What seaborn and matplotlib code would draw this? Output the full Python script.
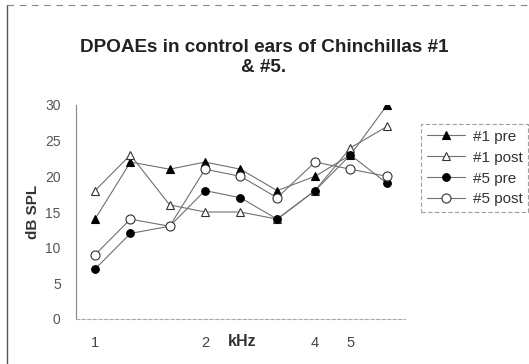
import matplotlib
matplotlib.use("Agg")
import matplotlib.pyplot as plt
from matplotlib.lines import Line2D
from matplotlib.ticker import FixedLocator, NullFormatter
import seaborn as sns
import pandas as pd

# DPOAE test frequencies (kHz) and levels (dB SPL)
freq_khz = [1, 1.25, 1.6, 2, 2.5, 3.15, 4, 5, 6.3]
c1_pre = [14, 22, 21, 22, 21, 18, 20, 23, 30]
c1_post = [18, 23, 16, 15, 15, 14, 18, 24, 27]
c5_pre = [7, 12, 13, 18, 17, 14, 18, 23, 19]
c5_post = [9, 14, 13, 21, 20, 17, 22, 21, 20]
series_names = ["#1 pre", "#1 post", "#5 pre", "#5 post"]
x_tick_values = [1, 2, 4, 5]
y_tick_values = [0, 5, 10, 15, 20, 25, 30]

sns.set_theme(style="white")
plt.rcParams["font.family"] = ["Liberation Sans", "DejaVu Sans"]

df = pd.DataFrame({
    "freq": freq_khz * 4,
    "level": c1_pre + c1_post + c5_pre + c5_post,
    "series": sum([[n] * len(freq_khz) for n in series_names], []),
})

fig = plt.figure(figsize=(5.29, 3.64), dpi=100)
ax = fig.add_axes([76 / 529, 45 / 364, 329 / 529, 214 / 364])

line_color = "#707070"
styles = {
    "#1 pre": dict(marker="^", markersize=5.5, markerfacecolor="black", markeredgecolor="black"),
    "#1 post": dict(marker="^", markersize=6, markerfacecolor="white", markeredgecolor="#333333"),
    "#5 pre": dict(marker="o", markersize=5.5, markerfacecolor="black", markeredgecolor="black"),
    "#5 post": dict(marker="o", markersize=6.5, markerfacecolor="white", markeredgecolor="#333333"),
}

for name in series_names:
    sub = df[df["series"] == name]
    sns.lineplot(data=sub, x="freq", y="level", ax=ax, color=line_color,
                 linewidth=0.8, markeredgewidth=0.8, label=name,
                 legend=False, **styles[name])

ax.set_xscale("log")
ax.set_xlim(0.887, 7.05)
ax.set_ylim(0, 30)
ax.set_xticks(x_tick_values)
ax.set_xticklabels([str(v) for v in x_tick_values])
ax.xaxis.set_minor_locator(FixedLocator([1.34, 1.78, 2.24, 3.57, 4.4, 5.65]))
ax.xaxis.set_minor_formatter(NullFormatter())
ax.set_yticks(y_tick_values)
ax.tick_params(axis="x", which="major", length=0, pad=12, labelsize=10.5, labelcolor="#444444")
ax.tick_params(axis="x", which="minor", length=4, direction="in", color="#999999", width=0.7)
ax.tick_params(axis="y", length=0, pad=11, labelsize=10, labelcolor="#555555")
ax.set_xlabel("")
ax.set_ylabel("dB SPL", fontsize=11, fontweight="bold", color="#333333")
ax.yaxis.set_label_coords(-0.11, 0.5)

for side in ["top", "right"]:
    ax.spines[side].set_visible(False)
ax.spines["left"].set_color("#888888")
ax.spines["left"].set_linewidth(0.8)
ax.spines["bottom"].set_color("#aaaaaa")
ax.spines["bottom"].set_linewidth(0.8)
ax.spines["bottom"].set_linestyle((0, (3, 2)))

fig.text(242 / 529, 1 - 342 / 364, "kHz", ha="center", va="center",
         fontsize=11.5, fontweight="bold", color="#333333")

fig.text(264 / 529, 1 - 48 / 364, "DPOAEs in control ears of Chinchillas #1",
         ha="center", va="center", fontsize=13.6, fontweight="bold", color="#222222")
fig.text(264 / 529, 1 - 67 / 364, "& #5.",
         ha="center", va="center", fontsize=13.6, fontweight="bold", color="#222222")

handles = [Line2D([], [], color=line_color, linewidth=0.8, markeredgewidth=0.8,
                  **styles[n]) for n in series_names]
leg = fig.legend(handles, series_names, loc="upper left",
                 bbox_to_anchor=(413 / 529, 1 - 116 / 364), frameon=True,
                 fontsize=11, handlelength=2.5, handletextpad=0.5,
                 labelspacing=0.45, borderpad=0.4, fancybox=False,
                 labelcolor="#333333")
leg.get_frame().set_edgecolor("#888888")
leg.get_frame().set_linewidth(0.8)
leg.get_frame().set_linestyle((0, (4, 2)))

# outer chart border fragments
fig.add_artist(Line2D([7 / 529, 7 / 529], [0, 1 - 5 / 364], transform=fig.transFigure,
                      color="#555555", linewidth=1.0))
fig.add_artist(Line2D([7 / 529, 1], [1 - 5 / 364, 1 - 5 / 364], transform=fig.transFigure,
                      color="#888888", linewidth=0.8, linestyle=(0, (6, 5))))

fig.savefig("out.png", dpi=100)
